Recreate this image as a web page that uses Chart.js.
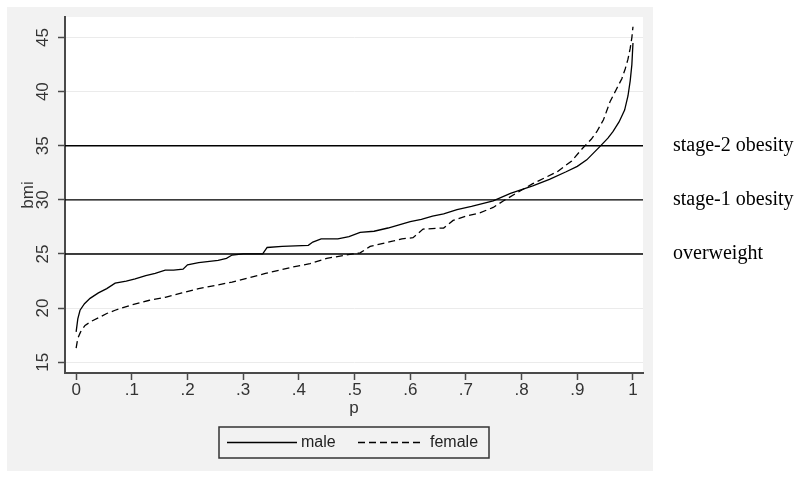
<!DOCTYPE html>
<html><head><meta charset="utf-8">
<script src="https://cdn.jsdelivr.net/npm/chart.js@4"></script>
<style>html,body{margin:0;padding:0;background:#fff}#wrap{width:800px;height:478px;position:relative}</style>
</head><body><div id="wrap"><canvas id="c" width="800" height="478"></canvas></div>
<script>
// ---- data ----
const seriesNames = ['male', 'female'];
const maleP = [0, 0.003, 0.007, 0.015, 0.025, 0.04, 0.055, 0.07, 0.09, 0.106, 0.125, 0.142, 0.16, 0.175, 0.192, 0.2, 0.22, 0.255, 0.27, 0.28, 0.3, 0.335, 0.343, 0.37, 0.417, 0.425, 0.44, 0.47, 0.49, 0.51, 0.535, 0.56, 0.58, 0.6, 0.62, 0.64, 0.66, 0.684, 0.71, 0.749, 0.78, 0.82, 0.85, 0.88, 0.9, 0.917, 0.94, 0.955, 0.964, 0.975, 0.985, 0.991, 0.995, 0.998, 1.0];
const maleBmi = [17.8, 19.0, 19.8, 20.4, 20.9, 21.4, 21.8, 22.3, 22.5, 22.7, 23.0, 23.2, 23.5, 23.5, 23.6, 24.0, 24.2, 24.4, 24.6, 24.9, 25.0, 25.0, 25.6, 25.7, 25.8, 26.1, 26.4, 26.4, 26.6, 27.0, 27.1, 27.4, 27.7, 28.0, 28.2, 28.5, 28.7, 29.1, 29.4, 29.9, 30.6, 31.3, 31.9, 32.6, 33.1, 33.7, 34.9, 35.7, 36.3, 37.2, 38.3, 39.6, 41.0, 42.5, 44.5];
const femaleP = [0, 0.003, 0.008, 0.016, 0.028, 0.04, 0.055, 0.07, 0.1, 0.13, 0.16, 0.19, 0.22, 0.25, 0.28, 0.31, 0.34, 0.39, 0.42, 0.45, 0.497, 0.51, 0.528, 0.57, 0.585, 0.605, 0.623, 0.66, 0.677, 0.7, 0.725, 0.749, 0.767, 0.79, 0.82, 0.84, 0.864, 0.89, 0.91, 0.925, 0.935, 0.947, 0.959, 0.97, 0.98, 0.986, 0.991, 0.995, 0.998, 1.0];
const femaleBmi = [16.3, 17.2, 17.8, 18.4, 18.8, 19.1, 19.5, 19.8, 20.3, 20.7, 21.0, 21.4, 21.8, 22.1, 22.4, 22.8, 23.2, 23.8, 24.1, 24.6, 25.0, 25.1, 25.7, 26.2, 26.4, 26.5, 27.3, 27.4, 28.1, 28.5, 28.8, 29.3, 29.9, 30.6, 31.5, 32.0, 32.6, 33.6, 34.8, 35.6, 36.3, 37.4, 39.1, 40.2, 41.2, 42.1, 43.0, 44.0, 45.0, 46.0];
const cutoffValues = [25, 30, 35];
const cutoffLabels = ['overweight', 'stage-1 obesity', 'stage-2 obesity'];
const xTicks = [0, 0.1, 0.2, 0.3, 0.4, 0.5, 0.6, 0.7, 0.8, 0.9, 1];
const yTicks = [15, 20, 25, 30, 35, 40, 45];
const xRange = [-0.02, 1.018];
const yRange = [14, 46.9];
const xTitle = 'p';
const yTitle = 'bmi';

// ---- styles ----
const SANS = '"Liberation Sans", Arial, Helvetica, sans-serif';
const SERIF = '"Liberation Serif", "Times New Roman", serif';
const TXT = '#333';
const AXIS = '#4a4a4a';

function fmtX(v) {
  if (Math.abs(v) < 1e-9) return '0';
  if (Math.abs(v - 1) < 1e-9) return '1';
  return v.toFixed(1).replace(/^0/, '');
}
function noPad(s) { s.paddingTop = 0; s.paddingBottom = 0; s.paddingLeft = 0; s.paddingRight = 0; }

const curveDatasets = [
  { label: seriesNames[0], data: maleP.map((p, i) => ({ x: p, y: maleBmi[i] })), borderColor: '#000', borderWidth: 1.3, borderDash: [] },
  { label: seriesNames[1], data: femaleP.map((p, i) => ({ x: p, y: femaleBmi[i] })), borderColor: '#000', borderWidth: 1.3, borderDash: [7, 4] }
].map(d => Object.assign(d, { showLine: true, pointRadius: 0, tension: 0, fill: false, inLegend: true }));

const cutoffDatasets = cutoffValues.map(v => ({
  label: 'cutoff ' + v,
  data: [{ x: xRange[0], y: v }, { x: xRange[1], y: v }],
  showLine: true, pointRadius: 0, borderColor: '#000', borderWidth: 1.4, fill: false
}));

const bgPlugin = {
  id: 'bg',
  beforeDraw(chart) {
    const { ctx, chartArea: a } = chart;
    ctx.save();
    ctx.fillStyle = '#ffffff';
    ctx.fillRect(0, 0, chart.width, chart.height);
    ctx.fillStyle = '#f2f2f2';
    ctx.fillRect(a.left - 58, a.top - 10, (a.right + 10) - (a.left - 58), (a.bottom + 98) - (a.top - 10));
    ctx.fillStyle = '#ffffff';
    ctx.fillRect(a.left, a.top, a.right - a.left, a.bottom - a.top);
    ctx.restore();
  }
};

const legendPlugin = {
  id: 'boxLegend',
  afterDraw(chart) {
    const { ctx, chartArea: a } = chart;
    const w = 270, h = 31;
    const cx = (a.left + a.right) / 2;
    const left = cx - w / 2, top = a.bottom + 54;
    ctx.save();
    ctx.strokeStyle = '#333';
    ctx.lineWidth = 1.5;
    ctx.strokeRect(left, top, w, h);
    const items = chart.data.datasets.filter(d => d.inLegend);
    const layout = [{ l0: 8, l1: 78, t: 82 }, { l0: 139, l1: 203, t: 211 }];
    const cy = top + h / 2;
    ctx.font = '16px ' + SANS;
    ctx.textBaseline = 'middle';
    ctx.fillStyle = '#222';
    items.forEach((d, i) => {
      const L = layout[i];
      ctx.beginPath();
      ctx.setLineDash(d.borderDash || []);
      ctx.lineWidth = d.borderWidth;
      ctx.strokeStyle = d.borderColor;
      ctx.moveTo(left + L.l0, cy);
      ctx.lineTo(left + L.l1, cy);
      ctx.stroke();
      ctx.setLineDash([]);
      ctx.fillText(d.label, left + L.t, cy);
    });
    ctx.restore();
  }
};

new Chart(document.getElementById('c'), {
  type: 'scatter',
  data: { datasets: [...curveDatasets, ...cutoffDatasets] },
  options: {
    responsive: false,
    animation: false,
    devicePixelRatio: 1,
    layout: { padding: { left: 0, right: 0, top: 17, bottom: 0 } },
    plugins: { legend: { display: false }, tooltip: { enabled: false } },
    scales: {
      x: {
        type: 'linear', position: 'bottom', min: xRange[0], max: xRange[1],
        afterBuildTicks: s => { s.ticks = xTicks.map(v => ({ value: v })); },
        afterFit: s => { s.height = 105; noPad(s); },
        ticks: { callback: v => fmtX(v), font: { size: 17, family: SANS }, color: TXT, padding: 0, autoSkip: false, maxRotation: 0, minRotation: 0 },
        grid: { drawOnChartArea: false, drawTicks: true, tickLength: 7, tickColor: AXIS, tickWidth: 1.5 },
        border: { color: AXIS, width: 2 },
        title: { display: true, text: xTitle, font: { size: 17, family: SANS }, color: TXT, padding: { top: 0, bottom: 59 } }
      },
      y: {
        type: 'linear', position: 'left', min: yRange[0], max: yRange[1],
        afterBuildTicks: s => { s.ticks = yTicks.map(v => ({ value: v })); },
        afterFit: s => { s.width = 65; noPad(s); },
        ticks: { font: { size: 17, family: SANS }, color: TXT, padding: 5.5, autoSkip: false, minRotation: 90, maxRotation: 90, crossAlign: 'center' },
        grid: { color: '#ebebeb', lineWidth: 1, drawTicks: true, tickLength: 7, tickColor: AXIS, tickWidth: 1.5 },
        border: { color: AXIS, width: 2 },
        title: { display: true, text: yTitle, font: { size: 17, family: SANS }, color: TXT, padding: { top: 18, bottom: 0 } }
      },
      y2: {
        type: 'linear', position: 'right', min: yRange[0], max: yRange[1],
        afterBuildTicks: s => { s.ticks = cutoffValues.map(v => ({ value: v })); },
        afterFit: s => { s.width = 157; noPad(s); },
        ticks: { callback: v => cutoffLabels[cutoffValues.indexOf(v)], font: { size: 20, family: SERIF }, color: '#000', padding: 30, autoSkip: false, crossAlign: 'near' },
        grid: { display: false, drawTicks: false },
        border: { display: false }
      }
    }
  },
  plugins: [bgPlugin, legendPlugin]
});
</script>
</body></html>
